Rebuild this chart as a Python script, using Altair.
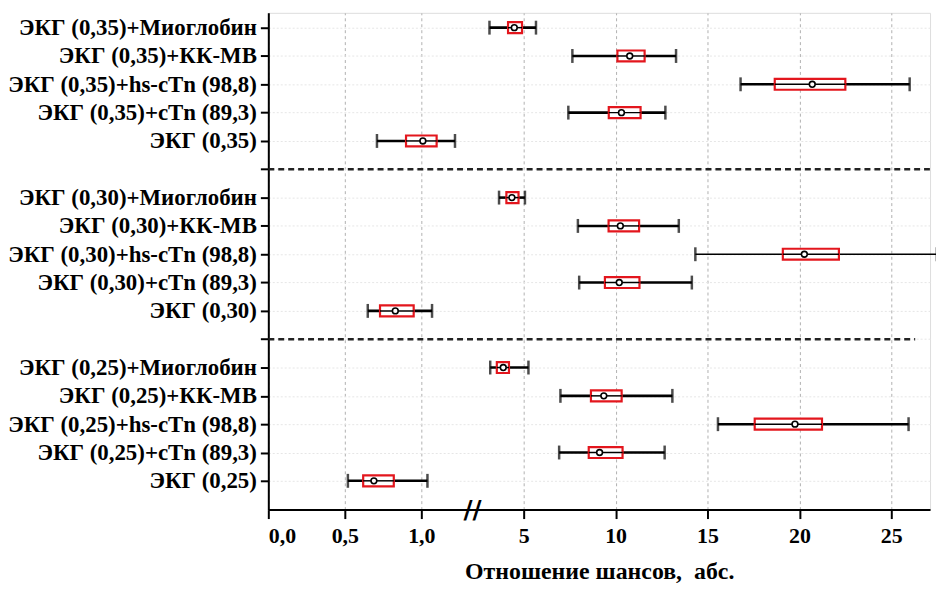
import altair as alt
import pandas as pd

# ---- data ----
labels = [
    "ЭКГ (0,35)+Миоглобин", "ЭКГ (0,35)+КК-МВ", "ЭКГ (0,35)+hs-cTn (98,8)", "ЭКГ (0,35)+cTn (89,3)", "ЭКГ (0,35)",
    "ЭКГ (0,30)+Миоглобин", "ЭКГ (0,30)+КК-МВ", "ЭКГ (0,30)+hs-cTn (98,8)", "ЭКГ (0,30)+cTn (89,3)", "ЭКГ (0,30)",
    "ЭКГ (0,25)+Миоглобин", "ЭКГ (0,25)+КК-МВ", "ЭКГ (0,25)+hs-cTn (98,8)", "ЭКГ (0,25)+cTn (89,3)", "ЭКГ (0,25)",
]
ci_low = [3.14, 7.65, 16.8, 7.43, 0.71,
          3.66, 7.95, 14.34, 8.02, 0.65,
          3.18, 7.0, 15.57, 6.93, 0.52]
box_low = [4.15, 10.1, 18.66, 9.63, 0.90,
           4.06, 9.62, 19.1, 9.42, 0.73,
           3.54, 8.66, 17.57, 8.54, 0.62]
odds = [4.49, 10.77, 20.7, 10.32, 1.01,
        4.36, 10.26, 20.27, 10.2, 0.83,
        3.89, 9.36, 19.76, 9.13, 0.69]
box_high = [4.91, 11.58, 22.5, 11.36, 1.10,
            4.72, 11.28, 22.15, 11.3, 0.95,
            4.2, 10.33, 21.23, 10.38, 0.82]
ci_high = [5.67, 13.29, 26.0, 12.71, 1.22,
           5.07, 13.44, 27.48, 14.15, 1.07,
           5.26, 13.09, 25.94, 12.67, 1.04]

separators = ["sep1", "sep2"]
separator_end = [27.1, 26.3]
tick_values = [0, 0.5, 1.0, 5, 10, 15, 20, 25]
x_title = "Отношение шансов,\u00a0 абс."
thin_row = "ЭКГ (0,30)+hs-cTn (98,8)"

# ---- broken-axis scale (left segment 0..1.5, right segment from 3 up) ----
LEFT_LIMIT = 1.5
R_OFF, R_K, L_K = 164.5, 18.5, 154.0
BREAK_DISP = 1.335


def disp_py(v):
    return v if v <= LEFT_LIMIT else (R_OFF + R_K * v) / L_K


def disp_expr(f):
    return f"datum.{f} <= {LEFT_LIMIT} ? datum.{f} : ({R_OFF} + {R_K} * datum.{f}) / {L_K}"


order = labels[0:5] + [separators[0]] + labels[5:10] + [separators[1]] + labels[10:15]

df = pd.DataFrame({"label": labels, "lo": ci_low, "q1": box_low, "mid": odds,
                   "q3": box_high, "hi": ci_high})
sep_df = pd.DataFrame({"label": separators, "start": [0.0, 0.0], "end": separator_end})
brk_df = pd.DataFrame({"pos": [BREAK_DISP], "txt": ["//"]})

FONT = "Liberation Serif"
WIDTH, HEIGHT = 666, 500
XMAX = WIDTH / L_K

yenc = alt.Y(
    "label:N",
    scale=alt.Scale(type="point", domain=order, padding=0.77, align=0.34),
    axis=alt.Axis(
        title=None,
        labelExpr="indexof(datum.value, 'sep') == 0 ? '' : datum.value",
        labelFont=FONT, labelFontSize=23, labelFontWeight="bold", labelColor="black",
        labelLimit=400,
        labelPadding=4, tickSize=8, tickWidth=2, tickColor="black",
        domainColor="black", domainWidth=2,
        grid=True, gridColor="#e6e6e6", gridDash=[2, 2], gridWidth=1,
    ),
)

xscale = alt.Scale(domain=[0, XMAX], nice=False, zero=False)
xaxis = alt.Axis(
    title=x_title, titleFont=FONT, titleFontSize=24, titleFontWeight="bold", titleColor="black",
    titlePadding=13,
    values=[disp_py(v) for v in tick_values],
    labelExpr=("datum.value < 1.5 ? replace(format(datum.value, '.1f'), '.', ',') : "
               f"format((datum.value * {L_K} - {R_OFF}) / {R_K}, '.0f')"),
    labelFont=FONT, labelFontSize=22, labelFontWeight="bold", labelColor="black",
    labelPadding=7, tickSize=9, tickWidth=2, tickColor="black",
    domainColor="black", domainWidth=2,
    grid=True, gridColor="#b0b0b0", gridDash=[3, 3], gridWidth=1,
)

base = alt.Chart(df).transform_calculate(
    lo_d=disp_expr("lo"), q1_d=disp_expr("q1"), mid_d=disp_expr("mid"),
    q3_d=disp_expr("q3"), hi_d=disp_expr("hi"),
)

sep = alt.Chart(sep_df).transform_calculate(
    s_d=disp_expr("start"), e_d=disp_expr("end")
).mark_rule(color="#222222", strokeWidth=2.5, strokeDash=[6, 4]).encode(
    x=alt.X("s_d:Q", scale=xscale, axis=xaxis), x2="e_d:Q", y=yenc
)

whisker = base.mark_rule(color="black").encode(
    x=alt.X("lo_d:Q", scale=xscale, axis=xaxis), x2="hi_d:Q", y=yenc,
    strokeWidth=alt.condition(alt.datum.label == thin_row, alt.value(1.6), alt.value(2.6)),
)
cap_lo = base.mark_tick(color="black", thickness=2.5, size=14, orient="vertical").encode(
    x=alt.X("lo_d:Q", scale=xscale), y=yenc)
cap_hi = base.mark_tick(color="black", thickness=2.5, size=14, orient="vertical").encode(
    x=alt.X("hi_d:Q", scale=xscale), y=yenc)
box = base.mark_bar(size=11, fill="white", stroke="#e3161d", strokeWidth=2.2).encode(
    x=alt.X("q1_d:Q", scale=xscale), x2="q3_d:Q", y=yenc)
inner = base.mark_rule(color="black", strokeWidth=1.5).encode(
    x=alt.X("q1_d:Q", scale=xscale), x2="q3_d:Q", y=yenc)
marker = base.mark_point(shape="circle", filled=True, fill="white", stroke="black",
                         strokeWidth=1.6, size=34, opacity=1).encode(
    x=alt.X("mid_d:Q", scale=xscale), y=yenc)
brk = alt.Chart(brk_df).mark_text(font="DejaVu Sans", fontSize=25, fontWeight="bold",
                                  color="black", baseline="middle", align="center").encode(
    x=alt.X("pos:Q", scale=xscale), y=alt.value(HEIGHT), text="txt:N")

chart = alt.layer(sep, whisker, box, inner, cap_lo, cap_hi, marker, brk).properties(
    width=WIDTH, height=HEIGHT,
    autosize=alt.AutoSizeParams(type="none"),
    padding={"left": 262, "top": 3, "right": 6, "bottom": 72},
).configure_view(stroke=None).configure(background="white")

chart.save("out.html", embed_options={"renderer": "svg", "actions": False})
